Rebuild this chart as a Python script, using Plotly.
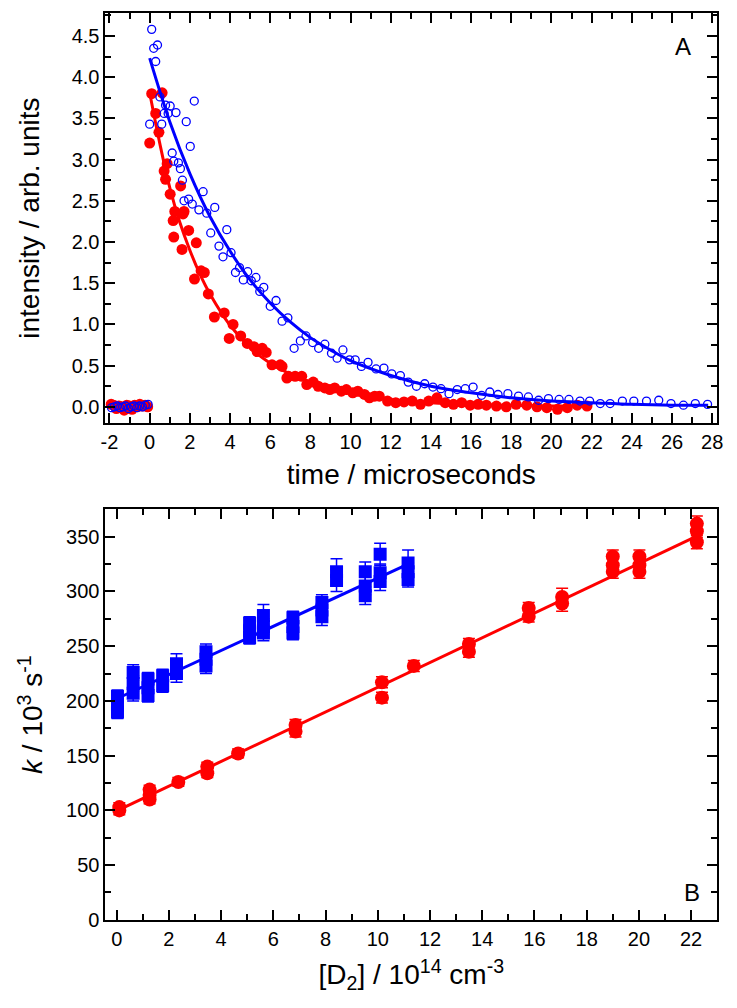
import plotly.graph_objects as go

# ---------------- Panel A : decay traces ----------------
blue_pre_t = [-1.90, -1.76, -1.62, -1.48, -1.34, -1.20, -1.06, -0.92, -0.78, -0.64, -0.50, -0.36, -0.22, -0.08]
blue_pre_y = [-0.01, 0.00, 0.01, -0.01, 0.00, 0.01, -0.02, 0.00, 0.01, -0.01, 0.01, 0.00, 0.02, 0.03]
red_pre_t = [-1.92, -1.79, -1.66, -1.53, -1.40, -1.27, -1.14, -1.01, -0.88, -0.75, -0.62, -0.49, -0.36, -0.23, -0.10]
red_pre_y = [0.03, 0.02, -0.02, 0.01, 0.00, -0.04, 0.02, 0.01, -0.03, 0.02, 0.00, 0.03, 0.01, 0.02, 0.00]

blue_t = [0.0, 0.1, 0.2, 0.3, 0.39, 0.51, 0.6, 0.72, 0.79, 0.92, 1.02, 1.12, 1.2, 1.31, 1.43, 1.53,
          1.63, 1.71, 1.82, 1.94, 2.02, 2.12, 2.22, 2.45, 2.66, 2.84, 3.04, 3.24, 3.45, 3.65, 3.84,
          4.05, 4.27, 4.47, 4.66, 4.88, 5.06, 5.29, 5.48, 5.68, 6.0, 6.29, 6.59, 6.88, 7.19, 7.5,
          7.78, 8.11, 8.41, 8.72, 9.05, 9.33, 9.62, 9.95, 10.23, 10.54, 10.87, 11.27, 11.66, 12.05,
          12.48, 12.87, 13.28, 13.69, 14.1, 14.5, 14.9, 15.31, 15.71, 16.1, 16.52, 16.93, 17.34,
          17.83, 18.36, 18.85, 19.36, 19.85, 20.38, 20.87, 21.42, 21.9, 22.43, 22.92, 23.53, 24.1,
          24.73, 25.34, 25.95, 26.57, 27.16, 27.77]
blue_y = [3.43, 4.58, 4.35, 4.19, 4.39, 3.76, 3.43, 3.56, 3.66, 3.56, 3.65, 3.08, 2.98, 3.57, 2.96, 2.89,
          2.75, 2.50, 3.46, 2.52, 3.16, 2.46, 3.71, 2.39, 2.61, 2.35, 2.11, 2.42, 1.95, 1.82, 2.15,
          1.87, 1.63, 1.69, 1.54, 1.64, 1.53, 1.57, 1.40, 1.45, 1.22, 1.29, 1.04, 1.08, 0.71, 0.80,
          0.86, 0.78, 0.71, 0.76, 0.65, 0.59, 0.69, 0.57, 0.57, 0.49, 0.54, 0.46, 0.47, 0.40,
          0.38, 0.30, 0.25, 0.28, 0.24, 0.22, 0.16, 0.21, 0.22, 0.24, 0.14, 0.18, 0.15,
          0.16, 0.13, 0.12, 0.08, 0.10, 0.09, 0.09, 0.07, 0.07, 0.04, 0.04, 0.07, 0.07,
          0.07, 0.08, 0.04, 0.02, 0.04, 0.03]

red_t = [0.0, 0.1, 0.3, 0.46, 0.62, 0.72, 0.79, 0.87, 1.02, 1.17, 1.2, 1.25, 1.54, 1.61, 1.66, 1.71,
         1.94, 2.23, 2.32, 2.56, 2.72, 2.92, 3.22, 3.71, 3.96, 4.15, 4.53, 4.86, 5.19, 5.35, 5.6,
         5.8, 6.09, 6.5, 6.59, 6.83, 6.91, 7.24, 7.57, 7.82, 8.14, 8.39, 8.72, 8.97, 9.21, 9.54,
         9.79, 10.11, 10.36, 10.69, 10.94, 11.2, 11.43, 11.84, 12.25, 12.66, 13.07, 13.48, 13.89,
         14.3, 14.71, 15.12, 15.53, 15.95, 16.35, 16.76, 17.26, 17.75, 18.24, 18.77, 19.28, 19.77,
         20.3, 20.79, 21.28, 21.77]
red_y = [3.20, 3.80, 3.56, 3.33, 3.81, 2.86, 2.76, 2.95, 2.58, 2.26, 2.06, 2.37, 2.68, 1.91, 2.34, 2.37,
         2.14, 1.55, 1.99, 1.65, 1.63, 1.37, 1.09, 1.14, 0.83, 1.00, 0.86, 0.77, 0.73, 0.67, 0.71,
         0.66, 0.51, 0.51, 0.49, 0.35, 0.37, 0.37, 0.37, 0.27, 0.30, 0.25, 0.23, 0.21, 0.23, 0.19,
         0.21, 0.17, 0.19, 0.15, 0.11, 0.13, 0.13, 0.07, 0.05, 0.06, 0.07, 0.03, 0.07,
         0.11, 0.05, 0.03, 0.05, 0.02, 0.03, 0.02, 0.01, 0.00, 0.03, 0.02, 0.00, -0.01,
         -0.03, -0.01, 0.02, 0.01]

blue_fit_t = [0, 1, 2, 3, 4, 5, 6, 7, 8, 9, 10, 12, 14, 16, 18, 20, 22, 24, 26, 27.8]
blue_fit_y = [4.23, 3.46, 2.83, 2.31, 1.89, 1.54, 1.26, 1.03, 0.84, 0.69, 0.56, 0.38, 0.25, 0.17,
              0.11, 0.07, 0.05, 0.03, 0.02, 0.02]
red_fit_t = [0, 0.5, 1, 1.5, 2, 2.5, 3, 4, 5, 6, 7, 8, 10, 12, 14, 16, 18, 20, 21.7]
red_fit_y = [3.81, 3.20, 2.66, 2.24, 1.90, 1.61, 1.37, 0.99, 0.72, 0.53, 0.40, 0.30, 0.16, 0.09,
             0.05, 0.03, 0.02, 0.01, 0.01]

time_ticks = [-2, 0, 2, 4, 6, 8, 10, 12, 14, 16, 18, 20, 22, 24, 26, 28]
time_tick_labels = ["-2", "0", "2", "4", "6", "8", "10", "12", "14", "16", "18", "20", "22", "24", "26", "28"]

# ---------------- Panel B : k vs [D2] ----------------
blue_d2 = [0.03, 0.03, 0.03, 0.63, 0.63, 0.63, 1.2, 1.2, 1.2, 1.76, 1.76, 2.29, 2.29, 3.42, 3.42, 3.42,
           5.09, 5.09, 5.09, 5.62, 5.62, 5.62, 6.75, 6.75, 6.75, 7.86, 7.86, 7.86, 8.42, 8.42,
           9.52, 9.52, 9.52, 10.09, 10.09, 10.09, 11.16, 11.16, 11.16]
blue_k = [204, 196, 190, 226, 216, 207, 220, 212, 205, 223, 214, 234, 225, 245, 238, 232,
          271, 264, 258, 278, 268, 262, 276, 268, 262, 290, 283, 277, 318, 310,
          318, 305, 296, 334, 317, 309, 326, 318, 311]
blue_err = [6, 6, 6, 7, 7, 7, 6, 6, 6, 6, 6, 9, 8, 7, 7, 7,
            6, 6, 6, 10, 7, 7, 6, 6, 6, 7, 7, 8, 12, 10,
            9, 8, 8, 10, 8, 8, 12, 8, 7]

red_d2 = [0.1, 0.1, 1.26, 1.26, 1.26, 2.36, 3.47, 3.47, 4.65, 6.85, 6.85, 10.16, 10.16, 11.38,
          13.49, 13.49, 15.78, 15.78, 17.06, 17.06, 19.0, 19.0, 19.0, 20.02, 20.02, 20.02,
          22.22, 22.22, 22.22]
red_k = [103, 100, 119, 114, 110, 126, 140, 134, 152, 178, 172, 217, 203, 232,
         252, 245, 285, 277, 295, 289, 332, 324, 318, 332, 324, 318, 362, 355, 345]
red_err = [4, 4, 4, 4, 4, 4, 4, 4, 4, 5, 5, 5, 5, 5,
           5, 5, 5, 5, 8, 7, 6, 6, 6, 6, 6, 6, 7, 6, 6]

blue_line_d2 = [0.0, 11.2]
blue_line_k = [202.0, 325.5]
red_line_d2 = [0.0, 22.2]
red_line_k = [99.5, 350.4]

BLUE = "#0000FF"
RED = "#FF0000"
FONT = "Liberation Sans"
W, H = 737, 1008   # reference picture size; positions below are fractions of it


def xd(px):
    return px / W


def yd(py):
    return 1 - py / H


fig = go.Figure()

# Panel A traces (red first, blue on top)
fig.add_trace(go.Scatter(x=red_pre_t + red_t, y=red_pre_y + red_y, mode="markers",
                         marker=dict(symbol="circle", size=11, color=RED),
                         xaxis="x", yaxis="y", showlegend=False))
fig.add_trace(go.Scatter(x=red_fit_t, y=red_fit_y, mode="lines", line=dict(color=RED, width=3, shape="spline"),
                         xaxis="x", yaxis="y", showlegend=False))
fig.add_trace(go.Scatter(x=blue_pre_t + blue_t, y=blue_pre_y + blue_y, mode="markers",
                         marker=dict(symbol="circle-open", size=8, color=BLUE, line=dict(width=1.3, color=BLUE)),
                         xaxis="x", yaxis="y", showlegend=False))
fig.add_trace(go.Scatter(x=blue_fit_t, y=blue_fit_y, mode="lines", line=dict(color=BLUE, width=3, shape="spline"),
                         xaxis="x", yaxis="y", showlegend=False))

# Panel B traces
fig.add_trace(go.Scatter(x=blue_line_d2, y=blue_line_k, mode="lines", line=dict(color=BLUE, width=3),
                         xaxis="x2", yaxis="y2", showlegend=False))
fig.add_trace(go.Scatter(x=blue_d2, y=blue_k, mode="markers",
                         marker=dict(symbol="square", size=13, color=BLUE),
                         error_y=dict(type="data", array=blue_err, color=BLUE, thickness=1.5, width=6),
                         xaxis="x2", yaxis="y2", showlegend=False))
fig.add_trace(go.Scatter(x=red_line_d2, y=red_line_k, mode="lines", line=dict(color=RED, width=3),
                         xaxis="x2", yaxis="y2", showlegend=False))
fig.add_trace(go.Scatter(x=red_d2, y=red_k, mode="markers",
                         marker=dict(symbol="circle", size=14, color=RED),
                         error_y=dict(type="data", array=red_err, color=RED, thickness=1.5, width=6),
                         xaxis="x2", yaxis="y2", showlegend=False))

axis_common = dict(showline=True, linewidth=2, linecolor="black", mirror="allticks",
                   ticks="inside", ticklen=10, tickwidth=2, tickcolor="black",
                   showgrid=False, zeroline=False,
                   tickfont=dict(family=FONT, size=20, color="black"))

xdom = [xd(102), xd(723)]
fig.update_layout(
    autosize=True,
    margin=dict(l=0, r=0, t=0, b=0),
    paper_bgcolor="white", plot_bgcolor="white",
    font=dict(family=FONT, color="black"),
    xaxis=dict(domain=xdom, range=[-2.2, 28.25], tickmode="array", tickvals=time_ticks,
               ticktext=time_tick_labels, anchor="y",
               minor=dict(ticks="inside", ticklen=6, tickwidth=2, dtick=1, tick0=0, tickcolor="black"),
               title=dict(text="time / microseconds", font=dict(family=FONT, size=28), standoff=12),
               **axis_common),
    yaxis=dict(domain=[yd(428), yd(13)], range=[-0.2, 4.78], tick0=0, dtick=0.5,
               tickformat=".1f", anchor="x",
               minor=dict(ticks="inside", ticklen=6, tickwidth=2, dtick=0.25, tickcolor="black"),
               title=dict(text="intensity / arb. units", font=dict(family=FONT, size=28), standoff=24),
               **axis_common),
    xaxis2=dict(domain=xdom, range=[-0.43, 23.0], tick0=0, dtick=2, anchor="y2",
                minor=dict(ticks="inside", ticklen=6, tickwidth=2, dtick=1, tickcolor="black"),
                title=dict(text="[D<sub>2</sub>] / 10<sup>14</sup> cm<sup>-3</sup>",
                           font=dict(family=FONT, size=28), standoff=16),
                **axis_common),
    yaxis2=dict(domain=[yd(930), yd(515)], range=[0, 375], tick0=0, dtick=50, anchor="x2",
                minor=dict(ticks="inside", ticklen=6, tickwidth=2, dtick=25, tickcolor="black"),
                title=dict(text="<i>k</i> / 10<sup>3</sup> s<sup>-1</sup>",
                           font=dict(family=FONT, size=28), standoff=15),
                **axis_common),
    annotations=[
        dict(text="A", xref="paper", yref="paper", x=xd(688), y=yd(47),
             xanchor="center", yanchor="middle",
             showarrow=False, font=dict(family=FONT, size=24, color="black")),
        dict(text="B", xref="paper", yref="paper", x=xd(697), y=yd(902),
             xanchor="center", yanchor="middle",
             showarrow=False, font=dict(family=FONT, size=24, color="black")),
    ],
)

# the figure fills the browser window exactly (no body margin, no scrollbars)
page_fix = (
    "var r=document.documentElement, b=document.body;"
    "[r,b].forEach(function(e){e.style.margin='0';e.style.padding='0';e.style.overflow='hidden';});"
)
fig.write_html("out.html", post_script=page_fix, default_width="100vw", default_height="100vh",
               config={"displayModeBar": False, "responsive": True})
